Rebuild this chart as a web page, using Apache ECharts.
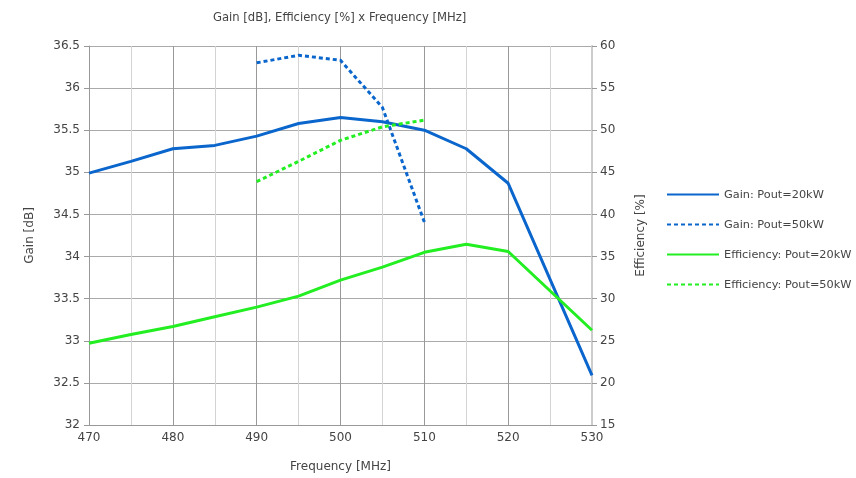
<!DOCTYPE html>
<html>
<head>
<meta charset="utf-8">
<script src="https://cdn.jsdelivr.net/npm/echarts@6/dist/echarts.min.js"></script>
<style>
  html, body { margin: 0; padding: 0; background: #fff; }
</style>
</head>
<body>
<div id="chart" style="width: 856px; height: 478px;"></div>
<script>
// frequencies in MHz
const freq20 = [470, 475, 480, 485, 490, 495, 500, 505, 510, 515, 520, 530];
const freq50 = [490, 495, 500, 505, 510];

// gain [dB]
const gain20 = [34.99, 35.13, 35.28, 35.32, 35.43, 35.58, 35.65, 35.60, 35.50, 35.28, 34.87, 32.59];
const gain50 = [36.30, 36.39, 36.33, 35.77, 34.41];

// efficiency [%]
const eff20 = [24.7, 25.75, 26.7, 27.85, 29.0, 30.3, 32.2, 33.75, 35.5, 36.45, 35.6, 26.25];
const eff50 = [43.9, 46.3, 48.8, 50.4, 51.2];

const seriesNames = ['Gain: Pout=20kW', 'Gain: Pout=50kW', 'Efficiency: Pout=20kW', 'Efficiency: Pout=50kW'];

const blue = '#0a66cc';
const green = '#22ee22';
const textColor = '#444';

function pairs(xs, ys) {
  return xs.map((x, i) => [x, ys[i]]);
}

let chart = echarts.init(document.getElementById('chart'));

const option = {
  animation: false,
  textStyle: { fontFamily: 'DejaVu Sans' },
  title: {
    text: 'Gain [dB], Efficiency [%] x Frequency [MHz]',
    left: 208,
    top: 7,
    textStyle: { fontSize: 11.6, fontWeight: 'normal', color: textColor }
  },
  legend: {
    orient: 'vertical',
    left: 661,
    top: 184,
    itemWidth: 52,
    itemHeight: 14,
    itemGap: 18.8,
    itemStyle: { opacity: 0 },
    textStyle: { fontSize: 11.3, color: textColor },
    data: seriesNames
  },
  grid: { left: 89, right: 264, top: 46, bottom: 51 },
  xAxis: {
    type: 'value',
    min: 470,
    max: 530,
    interval: 10,
    name: 'Frequency [MHz]',
    nameLocation: 'middle',
    nameGap: 36,
    nameTextStyle: { fontSize: 12, color: textColor },
    axisLine: { lineStyle: { color: '#999' } },
    axisTick: { show: false },
    axisLabel: { margin: 7, fontSize: 12, color: textColor },
    splitLine: { show: true, lineStyle: { color: '#999' } },
    minorTick: { show: false, splitNumber: 2 },
    minorSplitLine: { show: true, lineStyle: { color: '#d4d4d4' } }
  },
  yAxis: [
    {
      type: 'value',
      min: 32,
      max: 36.5,
      interval: 0.5,
      name: 'Gain [dB]',
      nameLocation: 'middle',
      nameGap: 53,
      nameTextStyle: { fontSize: 12, color: textColor },
      axisLine: { show: true, lineStyle: { color: '#999' } },
      axisTick: { show: true, length: 5, lineStyle: { color: '#999' } },
      axisLabel: { margin: 9, fontSize: 12, color: textColor },
      splitLine: { show: true, lineStyle: { color: '#aaa' } }
    },
    {
      type: 'value',
      min: 15,
      max: 60,
      interval: 5,
      name: 'Efficiency [%]',
      nameLocation: 'middle',
      nameGap: 43,
      nameTextStyle: { fontSize: 12, color: textColor },
      axisLine: { show: true, lineStyle: { color: '#ccc', width: 2 } },
      axisTick: { show: true, length: 5, lineStyle: { color: '#999' } },
      axisLabel: { margin: 8, fontSize: 12, color: textColor },
      splitLine: { show: false }
    }
  ],
  series: [
    {
      name: seriesNames[0],
      type: 'line',
      yAxisIndex: 0,
      symbol: 'none',
      data: pairs(freq20, gain20),
      lineStyle: { color: blue, width: 3 },
      itemStyle: { color: blue }
    },
    {
      name: seriesNames[1],
      type: 'line',
      yAxisIndex: 0,
      symbol: 'none',
      data: pairs(freq50, gain50),
      lineStyle: { color: blue, width: 3, type: [4, 3] },
      itemStyle: { color: blue }
    },
    {
      name: seriesNames[2],
      type: 'line',
      yAxisIndex: 1,
      symbol: 'none',
      data: pairs(freq20, eff20),
      lineStyle: { color: green, width: 3 },
      itemStyle: { color: green }
    },
    {
      name: seriesNames[3],
      type: 'line',
      yAxisIndex: 1,
      symbol: 'none',
      data: pairs(freq50, eff50),
      lineStyle: { color: green, width: 3, type: [4, 3] },
      itemStyle: { color: green }
    }
  ]
};

chart.setOption(option);
</script>
</body>
</html>
